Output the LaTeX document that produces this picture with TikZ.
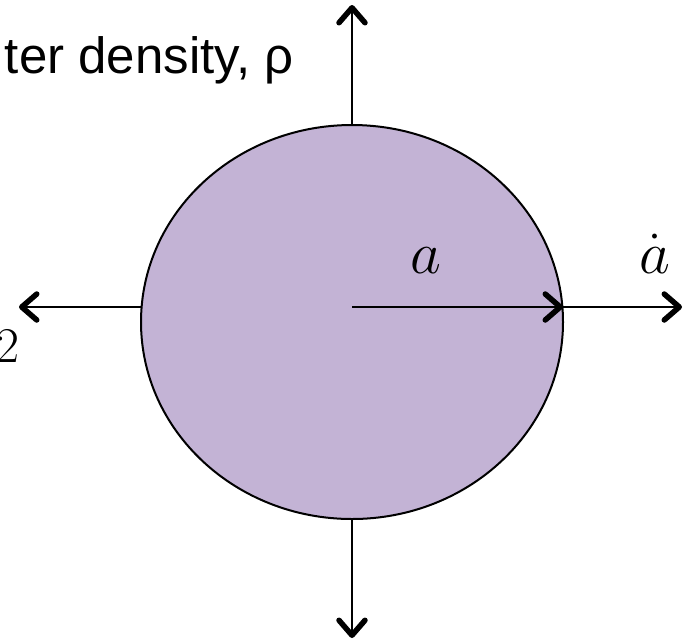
\RequirePackage{fix-cm}
\documentclass[tikz,border=0pt]{standalone}
\usepackage{fontspec}
\newfontfamily\labelfont{Liberation Sans}
\usetikzlibrary{arrows.meta,shapes.geometric}
\definecolor{blobfill}{RGB}{195,179,213}
\tikzset{
  flow/.style={line width=1.8pt,-{Straight Barb[length=15pt,width=26pt,line width=5.5pt,round]}},
  blob/.style={ellipse,draw,line width=2pt,fill=blobfill,minimum width=422pt,minimum height=394pt,inner sep=0pt},
  mathlbl/.style={inner sep=0pt,font=\fontsize{60}{70}\selectfont},
}
\begin{document}
\begin{tikzpicture}[x=1pt,y=-1pt]
\useasboundingbox (0,0) rectangle (695,641);
\node[blob] (e) at (352,322) {};
\coordinate (c) at (352,307);
\coordinate (w) at (141,307);
\coordinate (r) at (563,307);
\coordinate (tn) at (352,5);
\coordinate (ts) at (352,638);
\coordinate (tw) at (19,307);
\coordinate (te) at (682,307);
\draw[flow] (e.north) -- (tn);
\draw[flow] (e.south) -- (ts);
\draw[flow] (w) -- (tw);
\draw[flow] (r) -- (te);
\draw[flow] (c) -- (r);
\node[mathlbl,anchor=base] (la) at (426,273) {$a$};
\node[mathlbl,anchor=base] (lad) at (655,273) {$\dot a$};
\node[inner sep=0pt,anchor=base,font=\fontsize{50}{60}\selectfont] (l2) at (8,362) {$2$};
\node[inner sep=0pt,anchor=base east,font=\labelfont\fontsize{51}{60}\selectfont] (lt) at (294,73) {ter density, ρ};
\end{tikzpicture}
\end{document}
